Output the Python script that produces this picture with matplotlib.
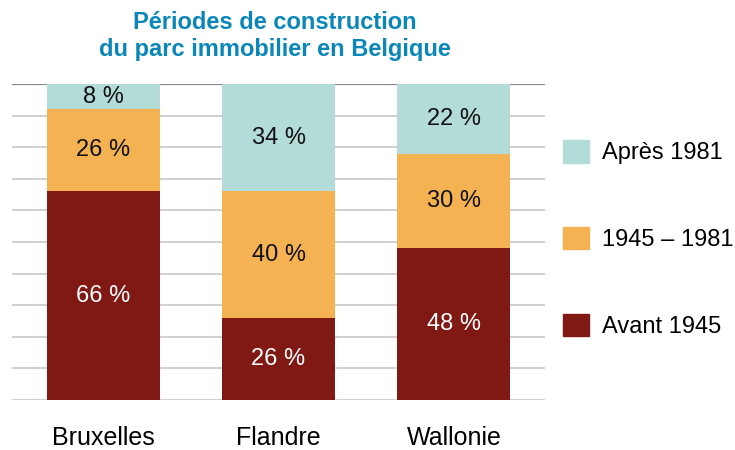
import numpy as np
import matplotlib.pyplot as plt
from matplotlib.patches import Patch

plt.rcParams['font.family'] = ['Liberation Sans', 'DejaVu Sans']

regions = ['Bruxelles', 'Flandre', 'Wallonie']
periods = ['Avant 1945', '1945 – 1981', 'Après 1981']
avant_1945 = [66, 26, 48]
entre_1945_1981 = [26, 40, 30]
apres_1981 = [8, 34, 22]

colors = ['#801813', '#f4b252', '#b3dcd8']
text_colors = ['white', '#111111', '#111111']

fig = plt.figure(figsize=(7.35, 4.5), dpi=100)
ax = fig.add_axes([12 / 735, 1 - 400 / 450, 533 / 735, 316 / 450])

x = np.arange(len(regions))
# grid lines behind the bars
for yv in range(0, 100, 10):
    ax.axhline(yv, color='#c8c8c8', lw=1.2, zorder=0)
ax.axhline(100, color='#8a8a8a', lw=1.6, zorder=0)

bottom = np.zeros(len(regions))
for vals, col, tcol in zip([avant_1945, entre_1945_1981, apres_1981], colors, text_colors):
    vals = np.array(vals)
    ax.bar(x, vals, bottom=bottom, width=0.644, color=col, zorder=2)
    for xi, b, v in zip(x, bottom, vals):
        ax.text(xi, b + v / 2, f'{v} %', ha='center', va='center',
                color=tcol, fontsize=17, zorder=3)
    bottom += vals

ax.set_xlim(-0.52, 2.52)
ax.set_ylim(0, 100)
ax.set_yticks([])
ax.set_xticks(x)
ax.set_xticklabels(regions, fontsize=18)
ax.tick_params(axis='x', length=0, pad=19)
for s in ax.spines.values():
    s.set_visible(False)

handles = [Patch(color=c) for c in colors[::-1]]
fig.legend(handles, periods[::-1], loc='center left',
           bbox_to_anchor=(554 / 735, 1 - 239 / 450), frameon=False,
           fontsize=17, handlelength=1.1, handleheight=1.1,
           handletextpad=0.55, labelspacing=2.65, borderaxespad=0)

fig.text(275 / 735, 1 - 36 / 450,
         'Périodes de construction\ndu parc immobilier en Belgique',
         ha='center', va='center', fontsize=17, fontweight='bold',
         color='#0a87b8', linespacing=1.27)

fig.savefig('out.png', dpi=100)
